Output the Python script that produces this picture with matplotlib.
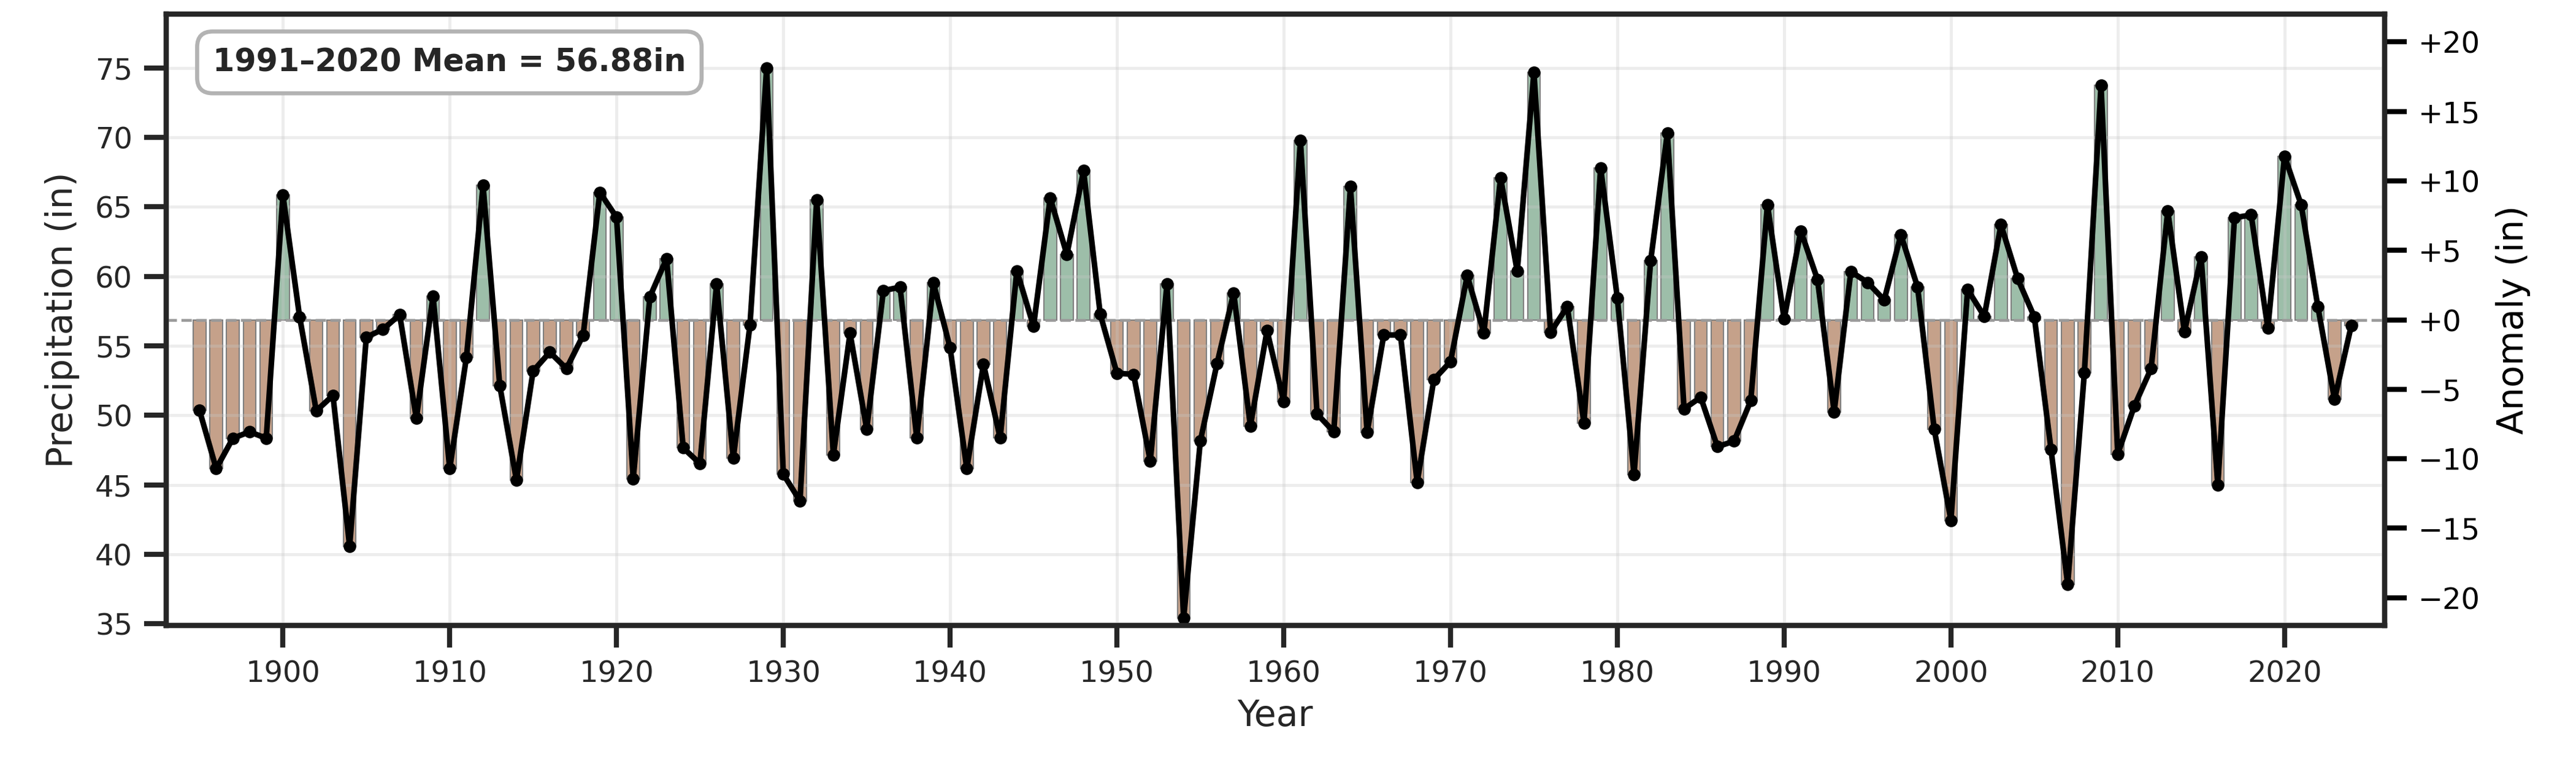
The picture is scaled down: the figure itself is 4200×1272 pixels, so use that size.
import matplotlib
matplotlib.use("Agg")
import matplotlib.pyplot as plt
from matplotlib.ticker import FuncFormatter
import numpy as np

plt.rcParams['font.family'] = ['DejaVu Sans']

years = list(range(1895, 2025))
precip = [
    50.36, 46.17, 48.36, 48.82, 48.36, 65.87, 57.10, 50.33, 51.44, 40.59,   # 1895-1904
    55.63, 56.20, 57.24, 49.79, 58.60, 46.17, 54.16, 66.55, 52.15, 45.35,   # 1905-1914
    53.19, 54.55, 53.37, 55.77, 66.05, 64.26, 45.42, 58.53, 61.28, 47.66,   # 1915-1924
    46.54, 59.44, 46.91, 56.50, 75.00, 45.77, 43.85, 65.50, 47.16, 55.92,   # 1925-1934
    49.02, 58.98, 59.23, 48.40, 59.53, 54.86, 46.17, 53.69, 48.37, 60.40,   # 1935-1944
    56.41, 65.66, 61.58, 67.61, 57.28, 53.04, 52.95, 46.70, 59.44, 35.41,   # 1945-1954
    48.15, 53.72, 58.82, 49.23, 56.10, 51.00, 69.80, 50.10, 48.83, 66.46,   # 1955-1964
    48.77, 55.79, 55.79, 45.18, 52.58, 53.87, 60.06, 55.95, 67.11, 60.37,   # 1965-1974
    74.69, 55.98, 57.83, 49.45, 67.82, 58.45, 45.74, 61.14, 70.33, 50.47,   # 1975-1984
    51.31, 47.75, 48.15, 51.06, 65.16, 56.95, 63.27, 59.78, 50.26, 60.35,   # 1985-1994
    59.57, 58.31, 63.00, 59.24, 49.00, 42.45, 59.06, 57.13, 63.72, 59.85,   # 1995-2004
    57.09, 47.57, 37.83, 53.08, 73.74, 47.21, 50.69, 53.37, 64.72, 56.02,   # 2005-2014
    61.39, 44.99, 64.22, 64.43, 56.27, 68.66, 65.15, 57.81, 51.15, 56.45,   # 2015-2024
]
normal_mean = 56.88
normal_label = "1991\u20132020 Mean = 56.88in"
left_ticks = [35, 40, 45, 50, 55, 60, 65, 70, 75]
right_ticks = [-20, -15, -10, -5, 0, 5, 10, 15, 20]
x_ticks = [1900, 1910, 1920, 1930, 1940, 1950, 1960, 1970, 1980, 1990, 2000, 2010, 2020]

yrs = np.array(years)
vals = np.array(precip)
anom = vals - normal_mean

GREEN = '#9dbea9'
BROWN = '#c5a18a'
DARK = '#262626'

fig = plt.figure(figsize=(14, 4.24), dpi=300)
ax = fig.add_axes([0.0645, 0.198, 0.8612, 0.784])

colors = [GREEN if a >= 0 else BROWN for a in anom]
ax.bar(yrs, anom, bottom=normal_mean, width=0.76, color=colors,
       edgecolor='#7f7f7f', linewidth=0.5, zorder=1)
ax.axhline(normal_mean, color='#9a9a9a', linestyle='--', linewidth=1.1, zorder=2.7)
ax.plot(yrs, vals, color='black', linewidth=2.2, marker='o', markersize=3.9, zorder=3)

ax.set_xlim(1893, 2026)
ax.set_ylim(normal_mean - 22, normal_mean + 22)
ax.set_xticks(x_ticks)
ax.set_yticks(left_ticks)
ax.grid(True, color='#c8c8c8', alpha=0.32, linewidth=1.2, zorder=2.5)
ax.set_axisbelow(False)
for gl in ax.get_xgridlines() + ax.get_ygridlines():
    gl.set_zorder(2.5)

ax.set_xlabel('Year', fontsize=14, color=DARK, labelpad=4)
ax.set_ylabel('Precipitation (in)', fontsize=14, color=DARK, labelpad=6)
ax.tick_params(axis='both', labelsize=11.5, length=8.7, width=2.0, colors=DARK, pad=4.5)
for sp in ax.spines.values():
    sp.set_linewidth(2.0)
    sp.set_color(DARK)

ax2 = ax.twinx()
ax2.set_ylim(-22, 22)
ax2.set_yticks(right_ticks)
ax2.yaxis.set_major_formatter(FuncFormatter(lambda v, p: f"{v:+.0f}".replace('-', '\u2212')))
ax2.tick_params(axis='y', labelsize=11.5, length=8.7, width=2.0, colors='black', pad=4.5)
for s in ['left', 'right', 'top', 'bottom']:
    ax2.spines[s].set_linewidth(2.0)
    ax2.spines[s].set_color(DARK)
ax2.set_ylabel('Anomaly (in)', fontsize=14, color='black', labelpad=6)
ax2.tick_params(axis='y', labelcolor='black')
ax2.grid(False)

ax.text(0.021, 0.946, normal_label, transform=ax.transAxes, ha='left', va='top',
        fontsize=12.2, fontweight='bold', color=DARK, zorder=5,
        bbox=dict(boxstyle='round,pad=0.5', facecolor='white', edgecolor='#b3b3b3',
                  linewidth=1.6))

fig.savefig('out.png', dpi=300)
